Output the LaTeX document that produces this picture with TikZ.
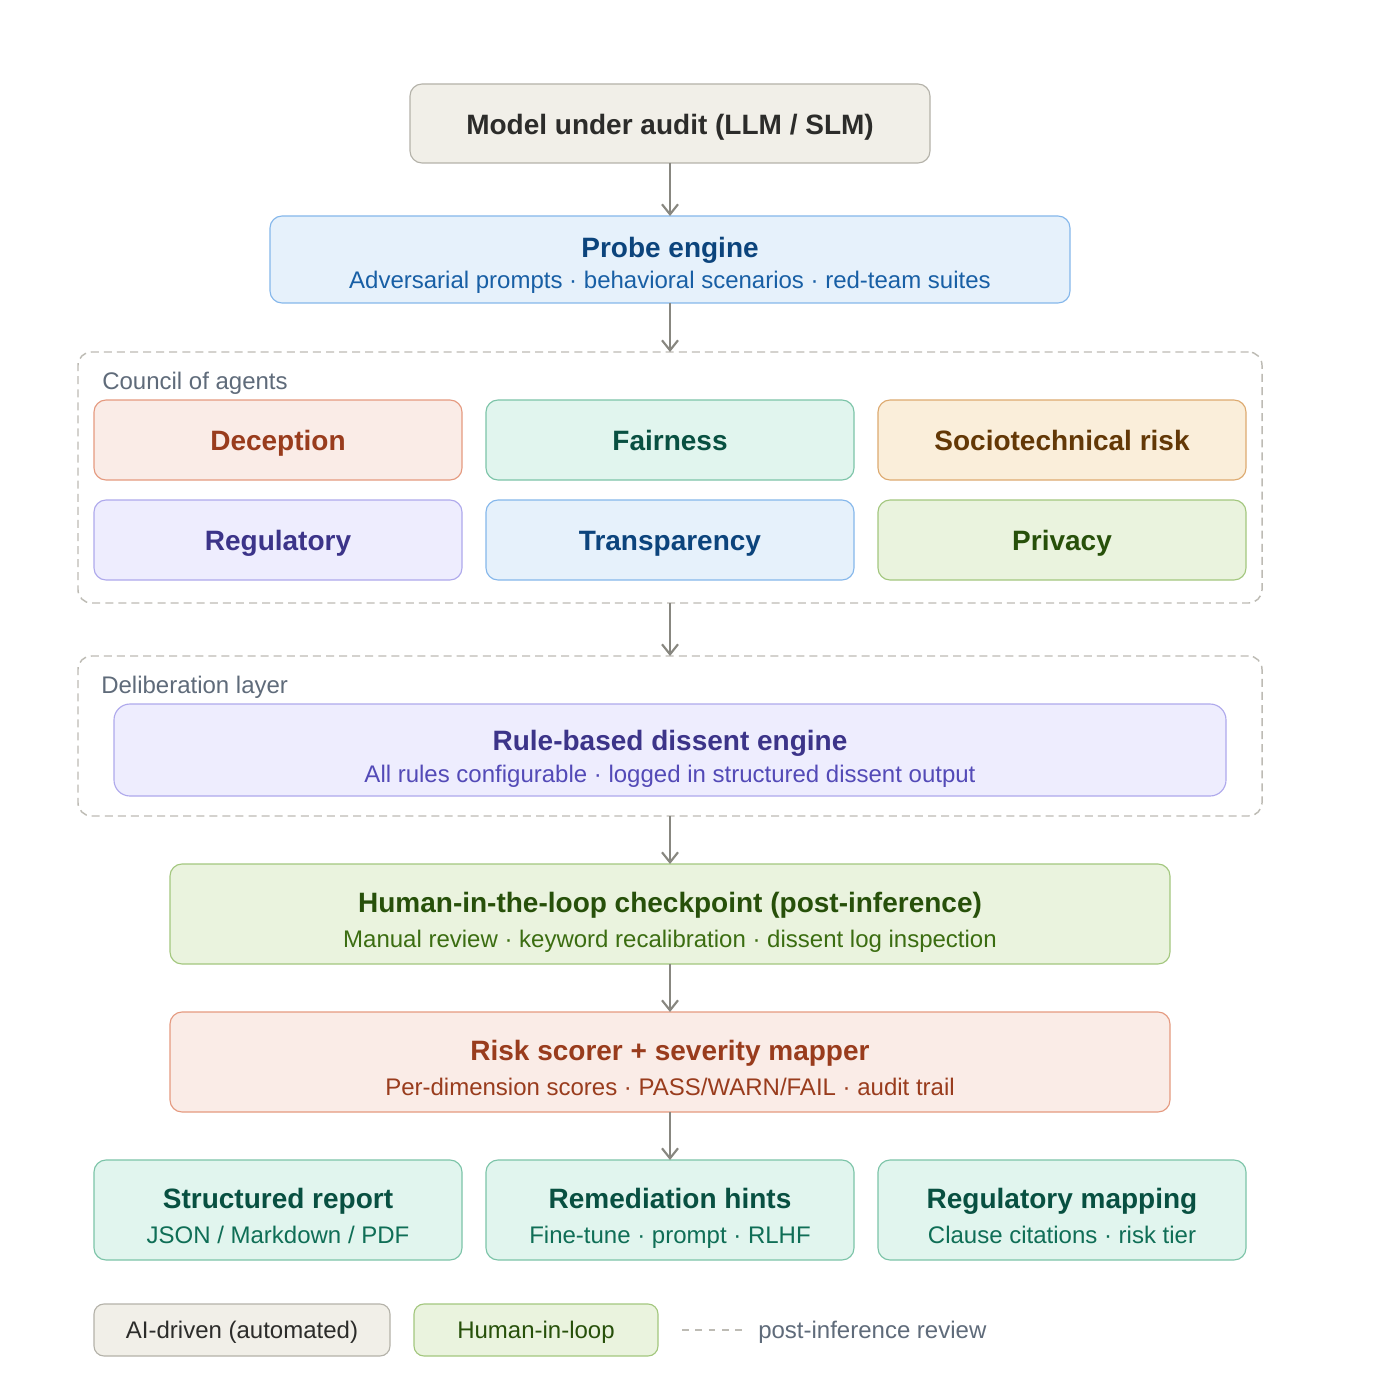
\documentclass[tikz,border=0pt]{standalone}
\usepackage{fontspec}
\setmainfont{Liberation Sans}
\usetikzlibrary{arrows.meta}
\definecolor{grayF}{HTML}{F1EFE8}\definecolor{grayD}{HTML}{B4B2A9}\definecolor{grayT}{HTML}{2C2C2A}
\definecolor{blueF}{HTML}{E6F1FB}\definecolor{blueD}{HTML}{85B7EB}\definecolor{blueT}{HTML}{0C447C}\definecolor{blueS}{HTML}{185FA5}
\definecolor{coralF}{HTML}{FAECE7}\definecolor{coralD}{HTML}{E59A80}\definecolor{coralT}{HTML}{993C1D}\definecolor{coralS}{HTML}{993C1D}
\definecolor{tealF}{HTML}{E1F5EE}\definecolor{tealD}{HTML}{7CC4A8}\definecolor{tealT}{HTML}{085041}\definecolor{tealS}{HTML}{0F6E56}
\definecolor{amberF}{HTML}{FAEEDA}\definecolor{amberD}{HTML}{DDAA70}\definecolor{amberT}{HTML}{633806}
\definecolor{purpF}{HTML}{EEEDFE}\definecolor{purpD}{HTML}{AFA9EC}\definecolor{purpT}{HTML}{3C3489}\definecolor{purpS}{HTML}{534AB7}
\definecolor{greenF}{HTML}{EAF3DE}\definecolor{greenD}{HTML}{A3C77E}\definecolor{greenT}{HTML}{27500A}\definecolor{greenS}{HTML}{3B6D11}
\definecolor{slateT}{HTML}{5F6B7A}\definecolor{dashC}{HTML}{BDBBB4}\definecolor{arrowC}{HTML}{888780}
\tikzset{
  box/.style={draw, rectangle, rounded corners=9pt, line width=0.85pt, inner sep=0pt, outer sep=0pt},
  grp/.style={draw=dashC, rectangle, rounded corners=10pt, line width=1.1pt, dash pattern=on 6pt off 3.8pt, inner sep=0pt, outer sep=0pt},
  ttl/.style={anchor=base, font=\fontsize{21}{24}\selectfont\bfseries, inner sep=0pt},
  sub/.style={anchor=base, font=\fontsize{18}{21}\selectfont, inner sep=0pt},
  grplabel/.style={anchor=base west, font=\fontsize{18}{21}\selectfont, text=slateT, inner sep=0pt},
  flow/.style={draw=arrowC, line width=1.7pt, -{Straight Barb[length=7.5pt, width=12pt, line width=1.6pt]}},
  agentbox/.style={box, minimum width=276pt, minimum height=60pt},
  outbox/.style={box, minimum width=276pt, minimum height=75pt, fill=tealF, draw=tealD},
}
\begin{document}
\begin{tikzpicture}[x=0.75pt, y=-0.75pt]
\useasboundingbox[fill=white] (0,0) rectangle (1374,1394);

% Model
\node[box, fill=grayF, draw=grayD, minimum width=390pt, minimum height=59.25pt] (model) at (670,123.5) {};
\node[ttl, text=grayT] (modelT) at (670,134.5) {Model under audit (LLM / SLM)};

% Probe
\node[box, fill=blueF, draw=blueD, minimum width=600pt, minimum height=65.25pt] (probe) at (670,259.5) {};
\node[ttl, text=blueT] (probeT) at (670,258) {Probe engine};
\node[sub, text=blueS] (probeS) at (670,289) {Adversarial prompts · behavioral scenarios · red-team suites};

% Council
\node[grp, minimum width=888pt, minimum height=188.25pt] (council) at (670,477.5) {};
\node[grplabel] (councilL) at (102,389) {Council of agents};
\node[agentbox, fill=coralF, draw=coralD] (dec) at (278,440) {};
\node[ttl, text=coralT] (decT) at (278,450.5) {Deception};
\node[agentbox, fill=tealF, draw=tealD] (fair) at (670,440) {};
\node[ttl, text=tealT] (fairT) at (670,450.5) {Fairness};
\node[agentbox, fill=amberF, draw=amberD] (socio) at (1062,440) {};
\node[ttl, text=amberT] (socioT) at (1062,450.5) {Sociotechnical risk};
\node[agentbox, fill=purpF, draw=purpD] (reg) at (278,540) {};
\node[ttl, text=purpT] (regT) at (278,550.5) {Regulatory};
\node[agentbox, fill=blueF, draw=blueD] (trans) at (670,540) {};
\node[ttl, text=blueT] (transT) at (670,550.5) {Transparency};
\node[agentbox, fill=greenF, draw=greenD] (priv) at (1062,540) {};
\node[ttl, text=greenT] (privT) at (1062,550.5) {Privacy};

% Deliberation
\node[grp, minimum width=888pt, minimum height=120pt] (delib) at (670,736) {};
\node[grplabel] (delibL) at (101,693) {Deliberation layer};
\node[box, rounded corners=12pt, fill=purpF, draw=purpD, minimum width=834pt, minimum height=69pt] (rule) at (670,750) {};
\node[ttl, text=purpT] (ruleT) at (670,750.5) {Rule-based dissent engine};
\node[sub, text=purpS] (ruleS) at (670,782.5) {All rules configurable · logged in structured dissent output};

% Human checkpoint
\node[box, fill=greenF, draw=greenD, minimum width=750pt, minimum height=75pt] (human) at (670,914) {};
\node[ttl, text=greenT] (humanT) at (670,912.5) {Human-in-the-loop checkpoint (post-inference)};
\node[sub, text=greenS] (humanS) at (670,947.5) {Manual review · keyword recalibration · dissent log inspection};

% Risk scorer
\node[box, fill=coralF, draw=coralD, minimum width=750pt, minimum height=75pt] (risk) at (670,1062) {};
\node[ttl, text=coralT] (riskT) at (670,1060.5) {Risk scorer + severity mapper};
\node[sub, text=coralS] (riskS) at (670,1095.5) {Per-dimension scores · PASS/WARN/FAIL · audit trail};

% Outputs
\node[outbox] (out1) at (278,1210) {};
\node[ttl, text=tealT] (out1T) at (278,1208.5) {Structured report};
\node[sub, text=tealS] (out1S) at (278,1243.5) {JSON / Markdown / PDF};
\node[outbox] (out2) at (670,1210) {};
\node[ttl, text=tealT] (out2T) at (670,1208.5) {Remediation hints};
\node[sub, text=tealS] (out2S) at (670,1243.5) {Fine-tune · prompt · RLHF};
\node[outbox] (out3) at (1062,1210) {};
\node[ttl, text=tealT] (out3T) at (1062,1208.5) {Regulatory mapping};
\node[sub, text=tealS] (out3S) at (1062,1243.5) {Clause citations · risk tier};

% Flow arrows
\draw[flow] (model.south) -- (probe.north);
\draw[flow] (probe.south) -- (council.north);
\draw[flow] (council.south) -- (delib.north);
\draw[flow] (delib.south) -- (human.north);
\draw[flow] (human.south) -- (risk.north);
\draw[flow] (risk.south) -- (out2.north);

% Legend
\node[box, rounded corners=7.5pt, fill=grayF, draw=grayD, minimum width=222pt, minimum height=39pt] (legAI) at (242,1330) {};
\node[sub, text=grayT] (legAIT) at (242,1338.5) {AI-driven (automated)};
\node[box, rounded corners=7.5pt, fill=greenF, draw=greenD, minimum width=183pt, minimum height=39pt] (legH) at (536,1330) {};
\node[sub, text=greenT] (legHT) at (536,1338.5) {Human-in-loop};
\coordinate (legDa) at (682,1330);
\coordinate (legDb) at (742,1330);
\draw[draw=dashC, line width=1.1pt, dash pattern=on 5pt off 5pt] (legDa) -- (legDb);
\node[sub, anchor=base west, text=slateT] (legDT) at (758,1338.5) {post-inference review};
\end{tikzpicture}
\end{document}
